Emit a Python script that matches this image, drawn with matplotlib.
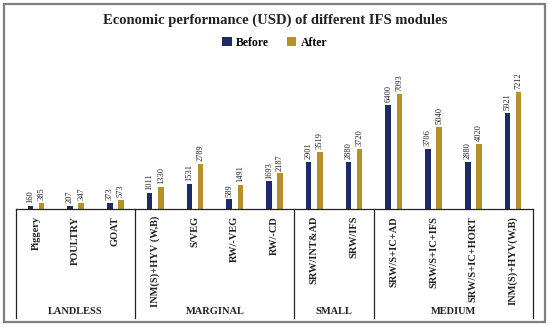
import matplotlib
matplotlib.use("Agg")
import matplotlib.pyplot as plt
from matplotlib.patches import Rectangle
import numpy as np

plt.rcParams['font.family'] = ['Liberation Serif', 'DejaVu Serif']

# chart data
modules = ['Piggery', 'POULTRY', 'GOAT',
           'INM(S)+HYV (W,B)', 'S/VEG', 'RW/-VEG', 'RW/-CD',
           'SRW/INT&AD', 'SRW/IFS',
           'SRW/S+IC+AD', 'SRW/S+IC+IFS', 'SRW/S+IC+HORT', 'INM(S)+HYV(W,B)']
before = [160, 207, 373, 1011, 1531, 589, 1693, 2901, 2880, 6400, 3706, 2880, 5921]
after = [385, 347, 573, 1330, 2789, 1491, 2187, 3519, 3720, 7093, 5040, 4020, 7212]
groups = ['LANDLESS', 'MARGINAL', 'SMALL', 'MEDIUM']
group_sizes = [3, 4, 2, 4]

c_before = '#1c2a66'
c_after = '#b8902a'

W, H = 550, 327
fig = plt.figure(figsize=(W / 100, H / 100), dpi=100, facecolor='white')

# outer frame of the chart
fig.patches.append(Rectangle((4 / W, 5 / H), 541 / W, 318 / H, transform=fig.transFigure,
                             fill=False, edgecolor='#7f7f7f', lw=1.6))

ax = fig.add_axes([16 / W, (H - 209) / H, 517 / W, 130 / H])
x = np.arange(len(modules))
bw = 0.14
off = 0.14
b1 = ax.bar(x - off, before, bw, color=c_before, label='Before')
b2 = ax.bar(x + off, after, bw, color=c_after, label='After')

for bars, vals in ((b1, before), (b2, after)):
    for r, v in zip(bars, vals):
        ax.text(r.get_x() + r.get_width() / 2, v + 180, str(v), rotation=90,
                ha='center', va='bottom', fontsize=6, color='#222222')

ax.set_xlim(-0.5, len(modules) - 0.5)
ax.set_ylim(0, 8000)
ax.set_yticks([])
for s in ['top', 'left', 'right']:
    ax.spines[s].set_visible(False)
ax.spines['bottom'].set_color('#222222')
ax.spines['bottom'].set_linewidth(0.9)

ax.set_xticks(x)
ax.set_xticklabels(modules, rotation=90, fontsize=7.5, fontweight='bold', color='#222222')
ax.tick_params(axis='x', length=0, pad=5)

# group separators and labels below the axis
trans = ax.get_xaxis_transform()
edges = np.concatenate([[0], np.cumsum(group_sizes)]) - 0.5
for e in edges:
    ax.plot([e, e], [0, -0.84], transform=trans, color='#222222', lw=0.9, clip_on=False)
for g, a, b in zip(groups, edges[:-1], edges[1:]):
    ax.text((a + b) / 2, -0.79, g, transform=trans, ha='center', va='center',
            fontsize=7.5, fontweight='bold', color='#222222')

fig.text(0.5, (H - 20) / H, 'Economic performance (USD) of different IFS modules',
         ha='center', va='center', fontsize=10.5, fontweight='bold', color='#222222')
fig.legend(handles=[b1, b2], loc='center', bbox_to_anchor=(0.5, (H - 43) / H), ncol=2,
           frameon=False, handlelength=0.8, handleheight=0.8,
           columnspacing=1.5, handletextpad=0.4,
           prop={'weight': 'bold', 'size': 8.5})

fig.savefig('out.png', dpi=100)
